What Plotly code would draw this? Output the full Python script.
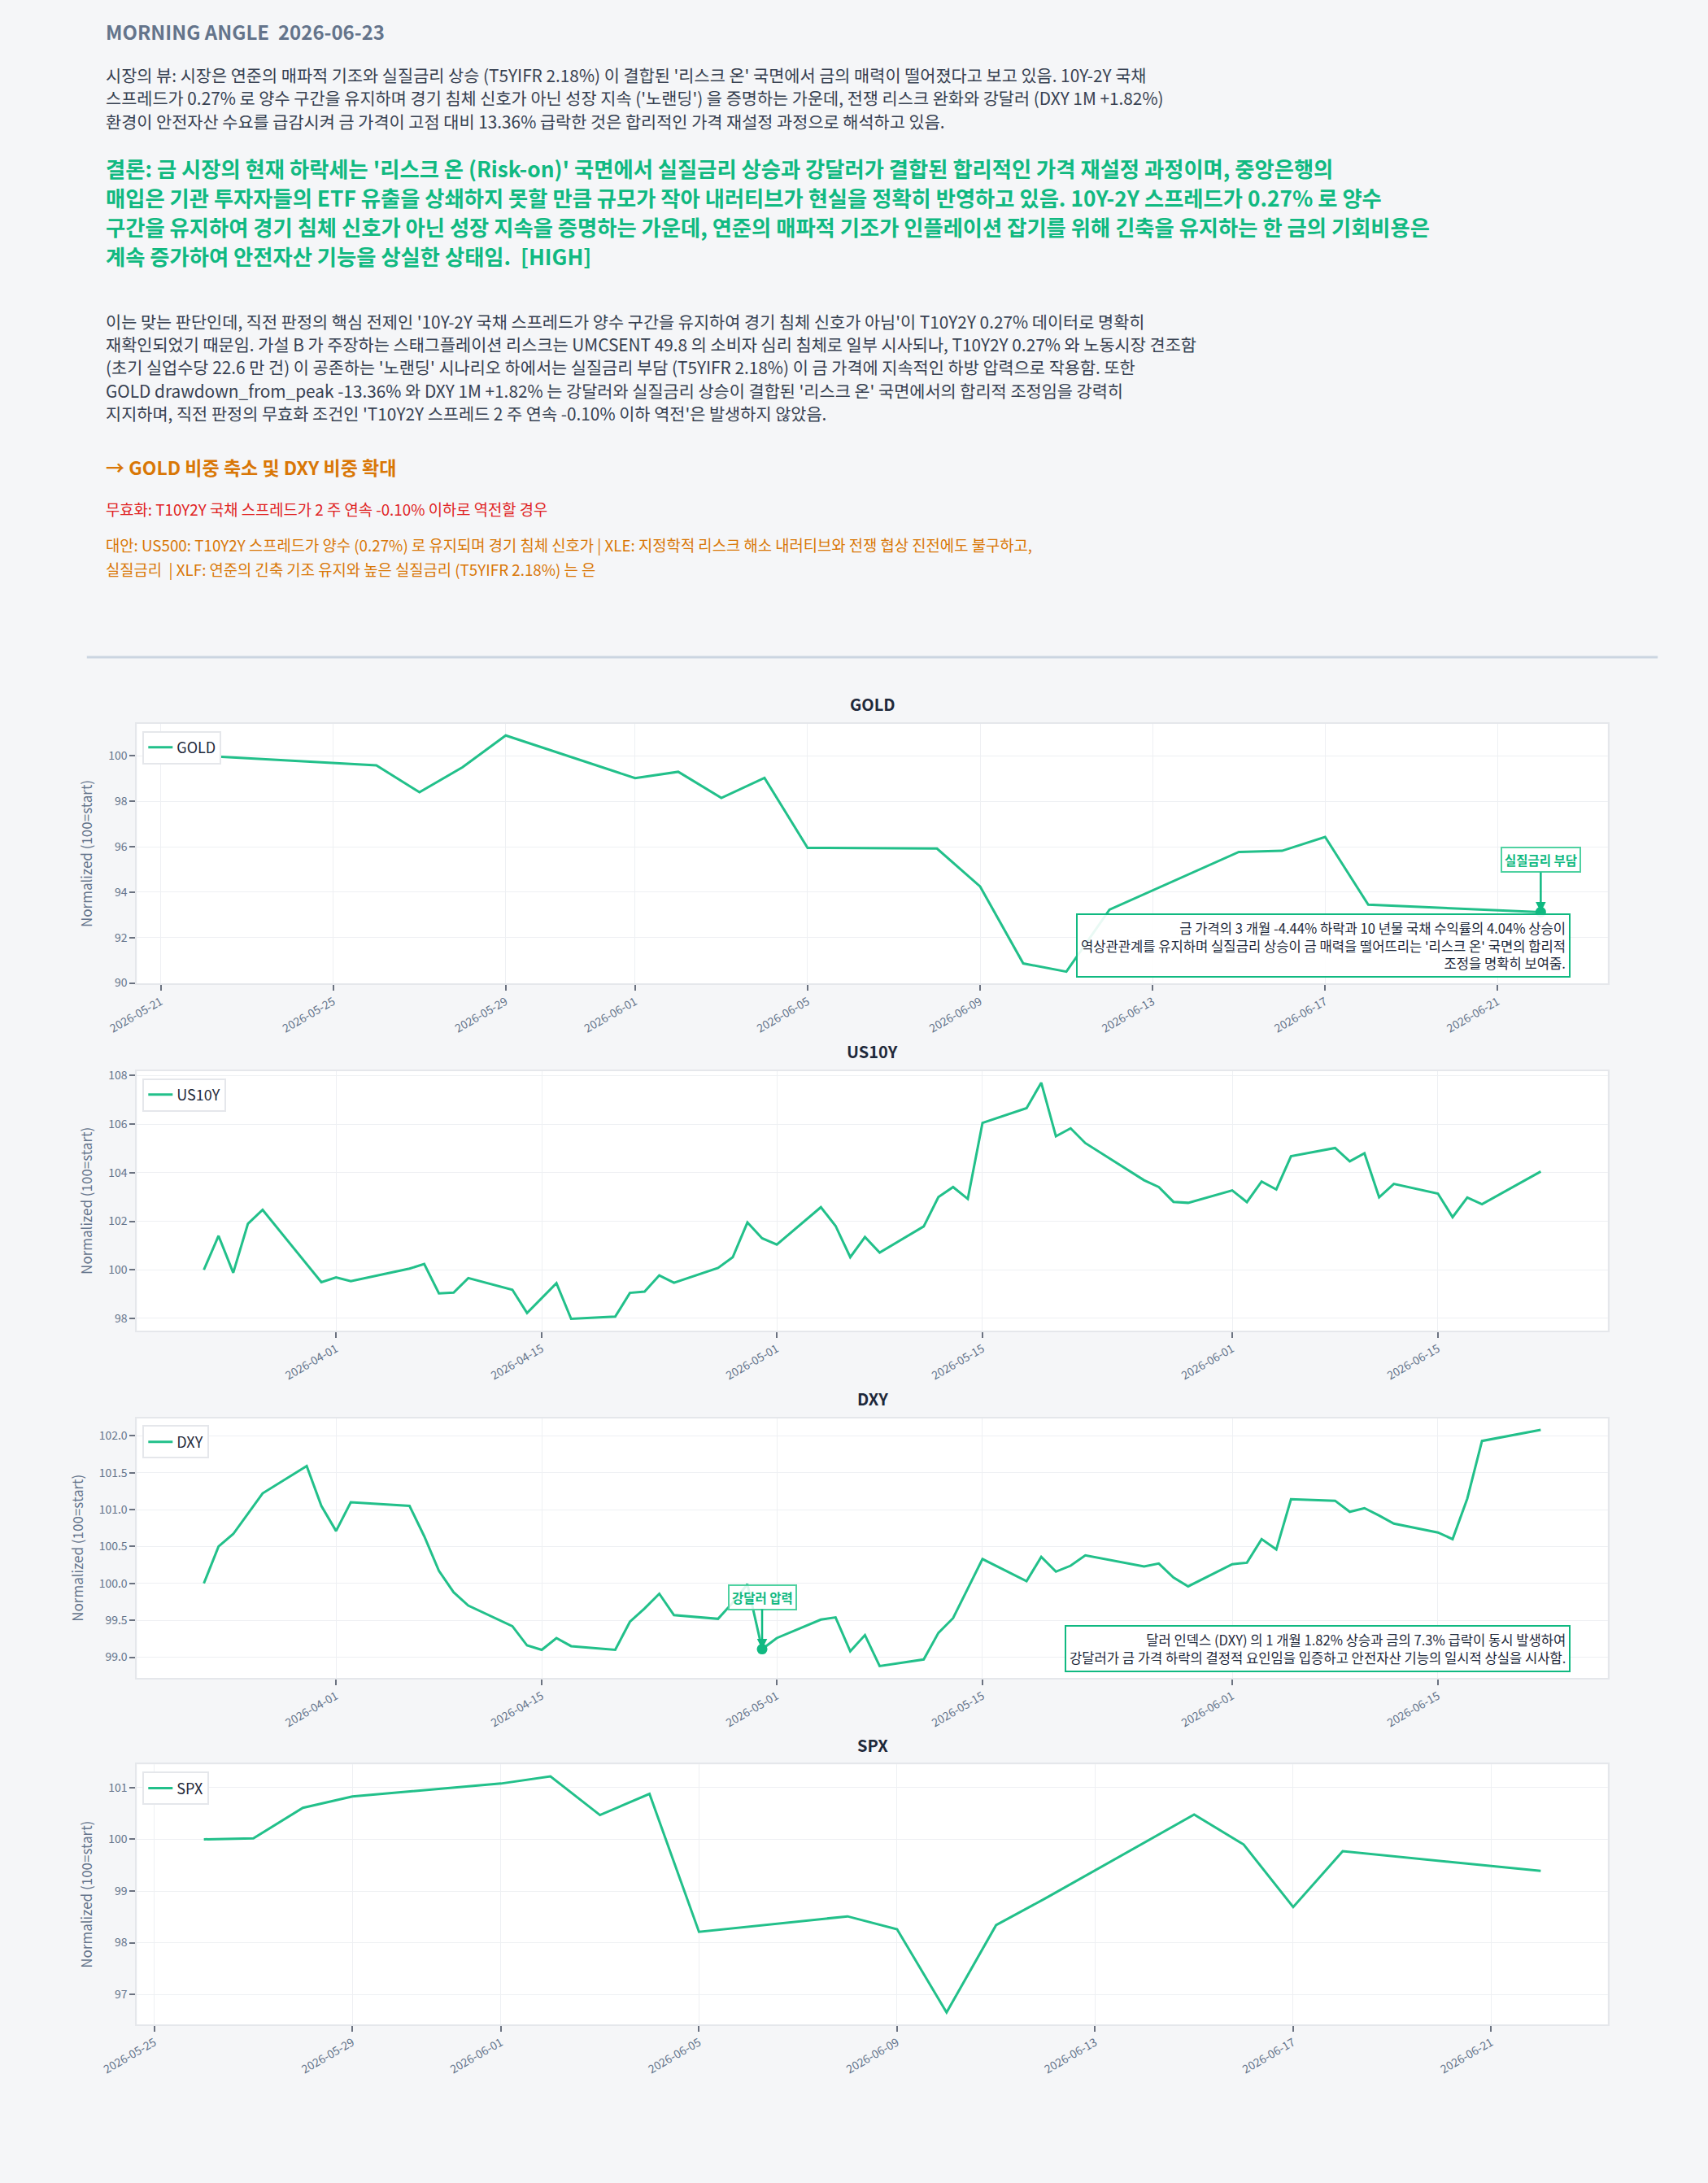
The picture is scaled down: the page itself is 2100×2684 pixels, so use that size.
"""Morning Angle 리포트 차트: 헤더 텍스트 + GOLD/US10Y/DXY/SPX 정규화 라인."""

from datetime import datetime

import plotly.graph_objects as go
from plotly.subplots import make_subplots

# page is 2100x2684; the body keeps its default 8px margin, so the figure is
# sized to fit inside it and every position below is given in page pixels
PAGE_W, PAGE_H = 2100, 2684
OFF = 8
W, H = PAGE_W - 2 * OFF, PAGE_H - 2 * OFF

BG = "#f5f6f8"
GREEN = "#10b981"
LINE = "#22c08a"
ORANGE = "#d97706"
RED = "#e02424"
TEXT = "#374151"
MUTED = "#64748b"
DARK = "#1e293b"
GRID = "#eef0f3"
BORDER = "#e5e7eb"
FONT = "Noto Sans CJK KR, Noto Sans, sans-serif"

# ---- header text ----
title_text = "MORNING ANGLE\u00a0 2026-06-23"

view_lines = [
    "시장의 뷰: 시장은 연준의 매파적 기조와 실질금리 상승 (T5YIFR 2.18%) 이 결합된 '리스크 온' 국면에서 금의 매력이 떨어졌다고 보고 있음. 10Y-2Y 국채",
    "스프레드가 0.27% 로 양수 구간을 유지하며 경기 침체 신호가 아닌 성장 지속 ('노랜딩') 을 증명하는 가운데, 전쟁 리스크 완화와 강달러 (DXY 1M +1.82%)",
    "환경이 안전자산 수요를 급감시켜 금 가격이 고점 대비 13.36% 급락한 것은 합리적인 가격 재설정 과정으로 해석하고 있음.",
]
conclusion_lines = [
    "결론: 금 시장의 현재 하락세는 '리스크 온 (Risk-on)' 국면에서 실질금리 상승과 강달러가 결합된 합리적인 가격 재설정 과정이며, 중앙은행의",
    "매입은 기관 투자자들의 ETF 유출을 상쇄하지 못할 만큼 규모가 작아 내러티브가 현실을 정확히 반영하고 있음. 10Y-2Y 스프레드가 0.27% 로 양수",
    "구간을 유지하여 경기 침체 신호가 아닌 성장 지속을 증명하는 가운데, 연준의 매파적 기조가 인플레이션 잡기를 위해 긴축을 유지하는 한 금의 기회비용은",
    "계속 증가하여 안전자산 기능을 상실한 상태임.\u00a0 [HIGH]",
]
reason_lines = [
    "이는 맞는 판단인데, 직전 판정의 핵심 전제인 '10Y-2Y 국채 스프레드가 양수 구간을 유지하여 경기 침체 신호가 아님'이 T10Y2Y 0.27% 데이터로 명확히",
    "재확인되었기 때문임. 가설 B 가 주장하는 스태그플레이션 리스크는 UMCSENT 49.8 의 소비자 심리 침체로 일부 시사되나, T10Y2Y 0.27% 와 노동시장 견조함",
    "(초기 실업수당 22.6 만 건) 이 공존하는 '노랜딩' 시나리오 하에서는 실질금리 부담 (T5YIFR 2.18%) 이 금 가격에 지속적인 하방 압력으로 작용함. 또한",
    "GOLD drawdown_from_peak -13.36% 와 DXY 1M +1.82% 는 강달러와 실질금리 상승이 결합된 '리스크 온' 국면에서의 합리적 조정임을 강력히",
    "지지하며, 직전 판정의 무효화 조건인 'T10Y2Y 스프레드 2 주 연속 -0.10% 이하 역전'은 발생하지 않았음.",
]
action_text = "→ GOLD 비중 축소 및 DXY 비중 확대"
invalid_text = "무효화: T10Y2Y 국채 스프레드가 2 주 연속 -0.10% 이하로 역전할 경우"
alt_lines = [
    "대안: US500: T10Y2Y 스프레드가 양수 (0.27%) 로 유지되며 경기 침체 신호가 | XLE: 지정학적 리스크 해소 내러티브와 전쟁 협상 진전에도 불구하고,",
    "실질금리\u00a0 | XLF: 연준의 긴축 기조 유지와 높은 실질금리 (T5YIFR 2.18%) 는 은",
]

# ---- series (normalized, 100 = start) ----
gold_dates = [
    "2026-05-22", "2026-05-26", "2026-05-27", "2026-05-28", "2026-05-29",
    "2026-06-01", "2026-06-02", "2026-06-03", "2026-06-04", "2026-06-05",
    "2026-06-08", "2026-06-09", "2026-06-10", "2026-06-11", "2026-06-12",
    "2026-06-15", "2026-06-16", "2026-06-17", "2026-06-18", "2026-06-22",
]
gold_vals = [
    100.0, 99.58, 98.4, 99.5, 100.9,
    99.02, 99.3, 98.15, 99.03, 95.95,
    95.92, 94.25, 90.86, 90.5, 93.23,
    95.77, 95.82, 96.43, 93.45, 93.12,
]

long_dates = [
    "2026-03-23", "2026-03-24", "2026-03-25", "2026-03-26", "2026-03-27",
    "2026-03-30", "2026-03-31", "2026-04-01", "2026-04-02", "2026-04-06",
    "2026-04-07", "2026-04-08", "2026-04-09", "2026-04-10", "2026-04-13",
    "2026-04-14", "2026-04-15", "2026-04-16", "2026-04-17", "2026-04-20",
    "2026-04-21", "2026-04-22", "2026-04-23", "2026-04-24", "2026-04-27",
    "2026-04-28", "2026-04-29", "2026-04-30", "2026-05-01", "2026-05-04",
    "2026-05-05", "2026-05-06", "2026-05-07", "2026-05-08", "2026-05-11",
    "2026-05-12", "2026-05-13", "2026-05-14", "2026-05-15", "2026-05-18",
    "2026-05-19", "2026-05-20", "2026-05-21", "2026-05-22", "2026-05-26",
    "2026-05-27", "2026-05-28", "2026-05-29", "2026-06-01", "2026-06-02",
    "2026-06-03", "2026-06-04", "2026-06-05", "2026-06-08", "2026-06-09",
    "2026-06-10", "2026-06-11", "2026-06-12", "2026-06-15", "2026-06-16",
    "2026-06-17", "2026-06-18", "2026-06-22",
]
us10y_vals = [
    100.0, 101.4, 99.88, 101.9, 102.47,
    100.25, 99.49, 99.69, 99.53, 100.05,
    100.24, 99.03, 99.06, 99.66, 99.18,
    98.22, 98.83, 99.45, 97.98, 98.07,
    99.05, 99.1, 99.77, 99.47, 100.08,
    100.52, 101.95, 101.3, 101.04, 102.58,
    101.81, 100.52, 101.35, 100.71, 101.79,
    103.0, 103.41, 102.92, 106.05, 106.66,
    107.71, 105.5, 105.83, 105.22, 103.69,
    103.41, 102.8, 102.76, 103.27, 102.79,
    103.64, 103.31, 104.68, 105.02, 104.47,
    104.8, 102.99, 103.54, 103.14, 102.17,
    102.98, 102.7, 104.05,
]
dxy_vals = [
    100.0, 100.5, 100.67, 100.95, 101.22,
    101.59, 101.05, 100.71, 101.1, 101.05,
    100.64, 100.17, 99.88, 99.7, 99.42,
    99.16, 99.1, 99.26, 99.15, 99.1,
    99.48, 99.66, 99.86, 99.57, 99.52,
    99.74, 99.99, 99.11, 99.26, 99.51,
    99.54, 99.08, 99.3, 98.88, 98.97,
    99.33, 99.53, 99.93, 100.33, 100.03,
    100.36, 100.16, 100.24, 100.38, 100.23,
    100.27, 100.08, 99.96, 100.26, 100.28,
    100.6, 100.46, 101.14, 101.12, 100.97,
    101.02, 100.92, 100.81, 100.69, 100.6,
    101.15, 101.93, 102.08,
]

spx_dates = [
    "2026-05-26", "2026-05-27", "2026-05-28", "2026-05-29", "2026-06-01",
    "2026-06-02", "2026-06-03", "2026-06-04", "2026-06-05", "2026-06-08",
    "2026-06-09", "2026-06-10", "2026-06-11", "2026-06-12", "2026-06-15",
    "2026-06-16", "2026-06-17", "2026-06-18", "2026-06-22",
]
spx_vals = [
    100.0, 100.02, 100.61, 100.83, 101.08,
    101.22, 100.47, 100.88, 98.21, 98.51,
    98.26, 96.65, 98.34, 98.86, 100.48,
    99.9, 98.69, 99.77, 99.39,
]

# x tick positions shown on each panel
short_ticks = ["2026-05-21", "2026-05-25", "2026-05-29", "2026-06-01", "2026-06-05",
               "2026-06-09", "2026-06-13", "2026-06-17", "2026-06-21"]
long_ticks = ["2026-04-01", "2026-04-15", "2026-05-01", "2026-05-15",
              "2026-06-01", "2026-06-15"]

gold_note = ("금 가격의 3 개월 -4.44% 하락과 10 년물 국채 수익률의 4.04% 상승이<br>"
             "역상관관계를 유지하며 실질금리 상승이 금 매력을 떨어뜨리는 '리스크 온' 국면의 합리적<br>"
             "조정을 명확히 보여줌.")
dxy_note = ("달러 인덱스 (DXY) 의 1 개월 1.82% 상승과 금의 7.3% 급락이 동시 발생하여<br>"
            "강달러가 금 가격 하락의 결정적 요인임을 입증하고 안전자산 기능의 일시적 상실을 시사함.")
gold_callout = "실질금리 부담"
dxy_callout = "강달러 압력"
dxy_callout_date = "2026-04-30"


def py(v):
    return 1 - (v - OFF) / H


def px(v):
    return (v - OFF) / W


def pad_range(vals, frac=0.05):
    lo, hi = min(vals), max(vals)
    d = (hi - lo) * frac
    return [lo - d, hi + d]


def pad_dates(dates, frac=0.05):
    ds = [datetime.fromisoformat(d) for d in dates]
    lo, hi = min(ds), max(ds)
    d = (hi - lo) * frac
    return [(lo - d).isoformat(sep=" "), (hi + d).isoformat(sep=" ")]


panels = [
    ("GOLD", gold_dates, gold_vals, short_ticks),
    ("US10Y", long_dates, us10y_vals, long_ticks),
    ("DXY", long_dates, dxy_vals, long_ticks),
    ("SPX", spx_dates, spx_vals, short_ticks),
]
# page-pixel top/bottom of each plot area
boxes = [(889, 1210), (1318, 1639), (1747, 2068), (2175, 2496)]

fig = make_subplots(rows=4, cols=1)

for i, (name, xs, ys, _) in enumerate(panels, start=1):
    leg = "legend" if i == 1 else f"legend{i}"
    fig.add_trace(go.Scatter(x=xs, y=ys, mode="lines", name=name,
                             line=dict(color=LINE, width=3), legend=leg),
                  row=i, col=1)

# callout markers
fig.add_trace(go.Scatter(x=[gold_dates[-1]], y=[gold_vals[-1]], mode="markers",
                         marker=dict(size=13, color=GREEN), showlegend=False,
                         hoverinfo="skip"), row=1, col=1)
k = long_dates.index(dxy_callout_date)
fig.add_trace(go.Scatter(x=[long_dates[k]], y=[dxy_vals[k]], mode="markers",
                         marker=dict(size=13, color=GREEN), showlegend=False,
                         hoverinfo="skip"), row=3, col=1)

axis_common = dict(showgrid=True, gridcolor=GRID, gridwidth=1, zeroline=False,
                   showline=True, linecolor=BORDER, linewidth=2, mirror=True,
                   ticks="outside", ticklen=7, tickwidth=1.5, tickcolor="#6b7280",
                   tickfont=dict(size=14, color=MUTED, family=FONT))

layout = dict(
    width=W, height=H,
    margin=dict(l=0, r=0, t=0, b=0),
    paper_bgcolor=BG, plot_bgcolor="white",
    font=dict(family=FONT, color=TEXT),
    showlegend=True,
)
for i, ((name, xs, ys, tv), (top, bottom)) in enumerate(zip(panels, boxes), start=1):
    sfx = "" if i == 1 else str(i)
    layout[f"xaxis{sfx}"] = dict(axis_common, domain=[px(126), px(1974)],
                                 range=pad_dates(xs), tickmode="array", tickvals=tv,
                                 tickformat="%Y-%m-%d", tickangle=-30)
    layout[f"yaxis{sfx}"] = dict(axis_common, domain=[py(bottom), py(top)],
                                 range=pad_range(ys),
                                 title=dict(text="Normalized (100=start)",
                                            font=dict(size=17, color=MUTED)))
    layout[f"legend{sfx}"] = dict(x=px(133), y=py(top + 9), xanchor="left", yanchor="top",
                                  bgcolor="white", bordercolor=BORDER, borderwidth=2,
                                  font=dict(size=18, color=DARK))
layout["yaxis3"]["tickformat"] = ".1f"
fig.update_layout(**layout)

ann = []


def header(text, y, size, color, bold=False):
    ann.append(dict(text=f"<b>{text}</b>" if bold else text, x=px(85), y=py(y),
                    xref="paper", yref="paper", xanchor="left", yanchor="middle",
                    showarrow=False, font=dict(size=size, color=color)))


header(title_text, 34, 24, MUTED, bold=True)
for t, y in zip(view_lines, [87, 116, 145]):
    header(t, y, 20.8, TEXT)
for t, y in zip(conclusion_lines, [202, 238.5, 275, 311]):
    header(t, y, 26.3, GREEN, bold=True)
for t, y in zip(reason_lines, [392, 420, 448.5, 477, 505]):
    header(t, y, 20.8, TEXT)
header(action_text, 572, 23, ORANGE, bold=True)
header(invalid_text, 623, 18.8, RED)
for t, y in zip(alt_lines, [668, 698]):
    header(t, y, 18.8, ORANGE)

# subplot titles
for (name, _, _, _), (top, _) in zip(panels, boxes):
    ann.append(dict(text=f"<b>{name}</b>", x=px(1050), y=py(top - 24), xref="paper",
                    yref="paper", xanchor="center", yanchor="middle", showarrow=False,
                    font=dict(size=20, color=DARK)))

# note boxes
for note, ax_id in [(gold_note, ""), (dxy_note, "3")]:
    ann.append(dict(text=note, xref=f"x{ax_id} domain", yref=f"y{ax_id} domain",
                    x=0.975, y=0.022, xanchor="right", yanchor="bottom", align="right",
                    showarrow=False, bgcolor="rgba(255,255,255,0.9)", bordercolor=GREEN,
                    borderwidth=2, borderpad=4, font=dict(size=16.6, color=DARK)))

# callouts
for label, xr, yr, xv, yv in [(gold_callout, "x", "y", gold_dates[-1], gold_vals[-1]),
                              (dxy_callout, "x3", "y3", long_dates[k], dxy_vals[k])]:
    ann.append(dict(text=f"<b>{label}</b>", xref=xr, yref=yr, x=xv, y=yv,
                    showarrow=True, arrowhead=2, arrowsize=1, arrowwidth=2.5,
                    arrowcolor=GREEN, ax=0, ay=-64, bgcolor="rgba(255,255,255,0.85)",
                    bordercolor="#4fd1a1", borderwidth=2, borderpad=3,
                    font=dict(size=15.5, color=GREEN)))

fig.update_layout(annotations=ann)

fig.add_shape(type="line", xref="paper", yref="paper", x0=px(63), x1=px(2037),
              y0=py(807), y1=py(807), line=dict(color="#cbd5e1", width=3))

# only the page colour is changed; the body margin stays as the browser sets it
fig.write_html(
    "out.html",
    config={"displayModeBar": False},
    post_script="document.body.style.background='" + BG + "';",
)
